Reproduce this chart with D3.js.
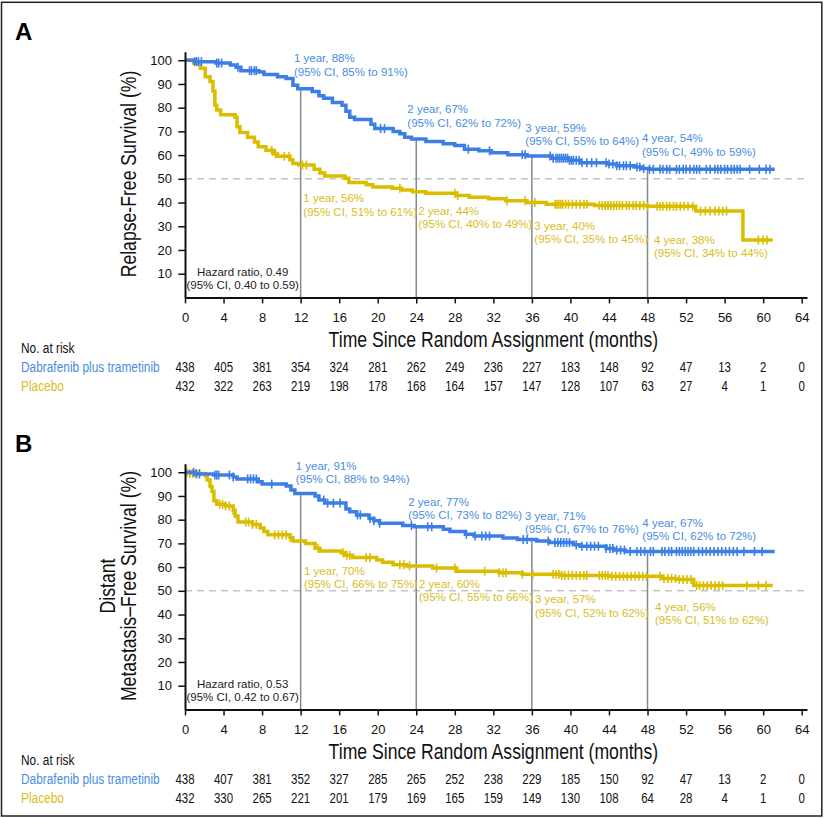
<!DOCTYPE html>
<html>
<head>
<meta charset="utf-8">
<script src="https://cdn.jsdelivr.net/npm/d3@7"></script>
<style>
  body { margin: 0; background: #fff; }
  svg text { font-family: "Liberation Sans", Arial, sans-serif; }
</style>
</head>
<body>
<svg id="chart" width="825" height="818"></svg>
<script>
// axis ticks
var monthTicks = [0, 4, 8, 12, 16, 20, 24, 28, 32, 36, 40, 44, 48, 52, 56, 60, 64];
var pctTicks = [10, 20, 30, 40, 50, 60, 70, 80, 90, 100];
var landmarkMonths = [12, 24, 36, 48];
var armNames = ["Dabrafenib plus trametinib", "Placebo"];

// Panel A: relapse-free survival, [month, %] step points
var rfsDab = [[0,100],[1.0,99.4],[3.2,98.8],[4.7,98.0],[5.3,97.0],[5.8,95.6],[7.7,95.0],[8.2,94.0],[9.6,93.0],[10.5,92.3],[11.2,89.5],[11.7,88.0],[13.2,86.8],[13.9,85.0],[14.4,84.0],[15.3,82.2],[16.3,81.0],[16.7,78.5],[17.1,76.0],[17.6,75.0],[19.3,73.0],[19.7,71.2],[21.6,70.0],[22.3,69.0],[22.8,67.5],[23.5,66.8],[25.0,65.7],[26.8,64.8],[28.0,64.0],[29.0,62.5],[30.5,61.8],[31.8,61.0],[33.5,60.2],[35.5,59.6],[38.0,58.7],[39.8,57.8],[41.0,56.8],[43.8,56.2],[44.8,55.5],[46.6,55.0],[47.4,54.3],[48.2,54.0],[61.2,54.0]];
var rfsPbo = [[0,100],[0.9,98.7],[1.6,96.6],[2.1,93.0],[2.6,91.0],[2.9,87.0],[3.1,81.0],[3.3,79.0],[3.7,77.0],[5.2,76.0],[5.4,72.0],[5.7,69.5],[6.5,67.5],[7.2,65.5],[7.6,63.5],[8.4,62.0],[9.2,60.5],[9.6,59.5],[10.9,58.0],[11.2,56.5],[11.8,55.8],[13.4,54.0],[14.0,52.5],[14.5,51.2],[16.6,50.2],[17.0,48.5],[18.8,47.5],[19.5,46.5],[21.5,46.0],[22.5,45.3],[23.6,44.5],[25.0,43.9],[28.2,43.0],[29.5,42.2],[31.5,41.6],[33.3,40.8],[35.5,40.0],[37.5,39.3],[42.5,38.8],[48.0,38.4],[53.0,36.4],[57.9,24.2],[61.0,24.2]];
var rfsDabCensor = [1.0,1.2,1.4,1.7,3.3,3.5,3.8,5.5,6.7,6.9,7.2,7.4,20.3,20.7,29.4,31.6,35.0,35.3,37.9,38.2,38.5,38.7,38.9,39.1,39.3,39.5,39.7,39.9,40.1,40.3,40.6,40.9,41.2,41.7,42.2,42.7,43.7,44.0,44.4,44.8,45.1,45.5,45.8,46.2,46.9,47.2,47.6,48.2,48.6,49.3,49.6,50.0,50.3,51.0,51.3,51.7,52.0,52.4,52.8,53.1,53.4,54.1,54.5,55.0,55.3,55.6,56.0,56.3,56.7,57.0,57.3,57.6,58.6,59.6,60.3,60.7];
var rfsPboCensor = [9.0,9.4,10.3,10.8,12.2,12.6,22.3,28.0,28.3,33.4,35.3,36.3,38.4,38.6,38.8,39.0,39.2,39.5,39.8,40.2,40.6,41.0,41.4,41.7,43.0,43.3,43.6,43.9,44.2,44.5,44.8,45.1,45.4,45.8,46.1,46.5,46.8,47.2,47.6,48.0,49.0,49.3,49.6,50.0,50.3,50.7,51.0,51.4,51.8,52.2,52.7,53.5,54.0,54.5,55.0,55.4,55.8,56.2,59.5,60.0,60.4];
var rfsDabRisk = [438, 405, 381, 354, 324, 281, 262, 249, 236, 227, 183, 148, 92, 47, 13, 2, 0];
var rfsPboRisk = [432, 322, 263, 219, 198, 178, 168, 164, 157, 147, 128, 107, 63, 27, 4, 1, 0];
var rfsDabNotes = [["1 year, 88%", "(95% CI, 85% to 91%)"], ["2 year, 67%", "(95% CI, 62% to 72%)"], ["3 year, 59%", "(95% CI, 55% to 64%)"], ["4 year, 54%", "(95% CI, 49% to 59%)"]];
var rfsPboNotes = [["1 year, 56%", "(95% CI, 51% to 61%)"], ["2 year, 44%", "(95% CI, 40% to 49%)"], ["3 year, 40%", "(95% CI, 35% to 45%)"], ["4 year, 38%", "(95% CI, 34% to 44%)"]];
var rfsHazard = ["Hazard ratio, 0.49", "(95% CI, 0.40 to 0.59)"];

// Panel B: distant metastasis-free survival
var dmfsDab = [[0,100],[1.0,99.3],[3.0,98.8],[5.0,98.0],[5.4,97.2],[7.6,96.0],[8.0,95.0],[10.5,94.2],[11.0,92.5],[11.4,91.0],[13.5,90.0],[13.9,88.3],[14.5,87.0],[16.7,84.5],[17.1,83.3],[17.8,82.0],[19.1,80.5],[19.6,79.5],[20.2,78.5],[22.6,77.5],[23.8,77.0],[26.8,76.0],[27.5,75.0],[29.1,73.8],[30.0,73.1],[33.0,72.3],[34.5,71.6],[36.5,71.0],[37.8,70.4],[40.3,69.4],[41.0,68.8],[43.7,67.8],[44.5,67.2],[45.7,66.6],[61.2,66.6]];
var dmfsPbo = [[0,100],[0.5,99.5],[2.1,98.5],[2.3,96.7],[2.6,94.0],[2.8,92.0],[3.0,88.0],[3.3,86.5],[4.2,85.8],[5.0,84.0],[5.2,81.5],[5.5,79.0],[7.0,78.0],[7.8,76.5],[8.2,75.0],[8.6,73.6],[10.9,72.5],[11.2,71.0],[12.5,70.0],[13.5,68.0],[14.0,66.8],[16.2,66.0],[16.6,65.0],[17.4,64.0],[19.9,63.0],[20.5,62.0],[21.6,61.0],[23.0,60.5],[25.7,59.6],[28.2,58.3],[32.6,57.6],[35.0,57.0],[39.0,56.5],[44.0,56.1],[49.5,55.2],[51.0,54.8],[52.8,52.2],[61.0,52.2]];
var dmfsDabCensor = [0.9,1.2,1.5,3.1,3.3,3.5,4.6,5.0,6.5,6.8,7.1,7.4,9.0,14.4,14.8,15.4,16.1,17.9,18.2,19.2,19.6,20.2,23.5,25.2,25.6,29.2,30.1,30.8,31.2,31.6,35.1,35.5,37.7,38.4,38.7,39.0,39.3,39.6,39.9,40.6,41.2,41.7,42.1,42.5,42.9,43.7,44.1,44.4,44.8,45.2,45.6,46.2,46.9,47.3,47.7,48.3,48.6,49.5,49.8,50.2,50.5,51.0,51.3,51.6,51.9,52.2,52.5,52.8,53.3,53.7,54.1,54.5,54.9,55.3,55.7,56.1,56.5,56.9,57.3,58.0,59.1,59.9];
var dmfsPboCensor = [0.2,0.5,0.8,1.1,1.5,3.6,3.9,4.2,4.6,5.0,6.3,6.6,7.0,7.4,9.3,9.7,10.1,10.5,10.9,13.8,16.4,16.8,17.1,18.8,19.2,22.3,22.7,23.3,26.1,28.0,31.1,32.6,33.0,33.3,35.0,36.1,38.2,38.5,38.8,39.1,39.4,39.8,40.2,40.6,41.0,41.4,41.7,43.0,43.3,43.6,43.9,44.3,44.7,45.1,45.5,45.9,46.3,46.7,47.1,47.5,47.9,49.3,49.7,50.1,50.5,50.9,51.3,51.7,52.1,52.5,53.1,53.4,53.8,54.2,54.6,55.0,55.4,55.8,58.3,59.5,60.3];
var dmfsDabRisk = [438, 407, 381, 352, 327, 285, 265, 252, 238, 229, 185, 150, 92, 47, 13, 2, 0];
var dmfsPboRisk = [432, 330, 265, 221, 201, 179, 169, 165, 159, 149, 130, 108, 64, 28, 4, 1, 0];
var dmfsDabNotes = [["1 year, 91%", "(95% CI, 88% to 94%)"], ["2 year, 77%", "(95% CI, 73% to 82%)"], ["3 year, 71%", "(95% CI, 67% to 76%)"], ["4 year, 67%", "(95% CI, 62% to 72%)"]];
var dmfsPboNotes = [["1 year, 70%", "(95% CI, 66% to 75%)"], ["2 year, 60%", "(95% CI, 55% to 66%)"], ["3 year, 57%", "(95% CI, 52% to 62%)"], ["4 year, 56%", "(95% CI, 51% to 62%)"]];
var dmfsHazard = ["Hazard ratio, 0.53", "(95% CI, 0.42 to 0.67)"];

var colors = {dab: "#3b7fe6", pbo: "#dbbd00", dabText: "#4a8de0", pboText: "#d8bd1c", ink: "#1a1a1a"};
var squeeze = 0.82; // condensed look, no narrow font installed

var svg = d3.select("#chart");

// frame round the whole figure
svg.append("rect")
    .attr("x", 1.5).attr("y", 2.3)
    .attr("width", 820.3).attr("height", 813.7)
    .attr("fill", "none")
    .attr("stroke", "#222")
    .attr("stroke-width", 1.5);

var x = d3.scaleLinear().domain([0, 64.55]).range([185, 807]);
var y = d3.scaleLinear().domain([0, 103.6]).range([297.4, 51.7]);

// value of a step curve at month t
var survAt = function(steps, t) {
    var v = steps[0][1];
    steps.forEach(function(d) {
        if (d[0] <= t) v = d[1];
    });
    return v;
};

// condensed text placed at px, py
var narrowText = function(parent, px, py, size) {
    return parent.append("text")
        .attr("transform", "translate(" + px + "," + py + ") scale(" + squeeze + ",1)")
        .attr("font-size", size);
};

var drawPanel = function(p) {
    var g = svg.append("g").attr("transform", "translate(0," + p.offset + ")");

    g.append("text")
        .attr("x", 15).attr("y", 39.5)
        .attr("font-size", 24).attr("font-weight", "bold")
        .attr("fill", "#000")
        .text(p.letter);

    // y axis title (one or two lines)
    var yTitle = g.append("text")
        .attr("transform", "translate(" + (136 - (p.yTitle.length - 1) * 21) + ",174) rotate(-90) scale(" + squeeze + ",1)")
        .attr("text-anchor", "middle")
        .attr("font-size", 21.5)
        .attr("fill", "#111");
    p.yTitle.forEach(function(line, i) {
        yTitle.append("tspan").attr("x", 0).attr("dy", i ? 21 : 0).text(line);
    });

    // 50% reference
    g.append("line")
        .attr("x1", x(0)).attr("x2", x(64.55))
        .attr("y1", y(50)).attr("y2", y(50))
        .attr("stroke", "#c4c4c4").attr("stroke-width", 1.5)
        .attr("stroke-dasharray", "7,5");

    // landmark drop lines
    g.selectAll(".landmark")
        .data(landmarkMonths).enter()
        .append("line")
        .attr("class", "landmark")
        .attr("x1", function(d) { return x(d); })
        .attr("x2", function(d) { return x(d); })
        .attr("y1", function(d) { return y(survAt(p.arms[0].steps, d)); })
        .attr("y2", y(0))
        .attr("stroke", "#7f898e").attr("stroke-width", 1.5);

    var line = d3.line()
        .x(function(d) { return x(d[0]); })
        .y(function(d) { return y(d[1]); })
        .curve(d3.curveStepAfter);

    p.arms.slice().reverse().forEach(function(arm) {
        g.append("path")
            .datum(arm.steps)
            .attr("d", line)
            .attr("fill", "none")
            .attr("stroke", arm.color)
            .attr("stroke-width", 3.5);
        g.append("g").selectAll("line")
            .data(arm.censor).enter()
            .append("line")
            .attr("x1", function(d) { return x(d); })
            .attr("x2", function(d) { return x(d); })
            .attr("y1", function(d) { return y(survAt(arm.steps, d)) - 4.5; })
            .attr("y2", function(d) { return y(survAt(arm.steps, d)) + 4.5; })
            .attr("stroke", arm.color)
            .attr("stroke-width", 1.6);
    });

    // landmark notes
    p.arms.forEach(function(arm) {
        arm.notes.forEach(function(note, i) {
            var spot = arm.spots[i];
            var t = g.append("text")
                .attr("x", x(spot[0]))
                .attr("y", y(spot[1]) + 4)
                .attr("font-size", 11.5)
                .attr("fill", arm.textColor);
            note.forEach(function(s, j) {
                t.append("tspan").attr("x", x(spot[0])).attr("dy", j ? 13.3 : 0).text(s);
            });
        });
    });

    // hazard ratio
    p.hazard.forEach(function(s, i) {
        g.append("text")
            .attr("x", 242.7).attr("y", 276 + i * 13.3)
            .attr("text-anchor", "middle")
            .attr("font-size", 11.5)
            .attr("fill", "#222")
            .text(s);
    });

    // axes
    var yAxis = g.append("g")
        .attr("transform", "translate(" + x(0) + ",0)")
        .call(d3.axisLeft(y).tickValues(pctTicks).tickSize(6.7).tickPadding(6.3).tickSizeOuter(0));
    var xAxis = g.append("g")
        .attr("transform", "translate(0," + y(0) + ")")
        .call(d3.axisBottom(x).tickValues(monthTicks).tickSize(6).tickPadding(9).tickSizeOuter(0));
    [yAxis, xAxis].forEach(function(a) {
        a.select(".domain").attr("stroke", "#111").attr("stroke-width", 2);
        a.selectAll(".tick line").attr("stroke", "#111").attr("stroke-width", 1.5);
        a.selectAll(".tick text")
            .attr("font-size", 13)
            .attr("fill", "#111")
            .style("font-family", "'Liberation Sans', Arial, sans-serif");
    });

    narrowText(g, (x(0) + x(64)) / 2, 347, 21.5)
        .attr("text-anchor", "middle")
        .attr("fill", "#111")
        .text("Time Since Random Assignment (months)");

    // number at risk table
    narrowText(g, 21, 352.5, 14.5)
        .attr("fill", "#111")
        .text("No. at risk");
    p.arms.forEach(function(arm, i) {
        var rowY = 371.5 + i * 19;
        narrowText(g, 21, rowY, 14.5)
            .attr("fill", arm.textColor)
            .text(arm.name);
        arm.risk.forEach(function(d, k) {
            narrowText(g, x(monthTicks[k]), rowY, 14)
                .attr("text-anchor", "middle")
                .attr("fill", "#111")
                .text(d);
        });
    });
};

drawPanel({
    letter: "A",
    offset: 0,
    yTitle: ["Relapse-Free Survival (%)"],
    hazard: rfsHazard,
    arms: [
        {name: armNames[0], steps: rfsDab, censor: rfsDabCensor, risk: rfsDabRisk, notes: rfsDabNotes,
         color: colors.dab, textColor: colors.dabText,
         spots: [[11.31, 100.8], [23.07, 79.3], [35.32, 71.6], [47.43, 67.1]]},
        {name: armNames[1], steps: rfsPbo, censor: rfsPboCensor, risk: rfsPboRisk, notes: rfsPboNotes,
         color: colors.pbo, textColor: colors.pboText,
         spots: [[12.28, 41.8], [24.21, 36.6], [36.25, 30.2], [48.67, 24.2]]}
    ]
});

drawPanel({
    letter: "B",
    offset: 412,
    yTitle: ["Distant", "Metastasis\u2013Free Survival (%)"],
    hazard: dmfsHazard,
    arms: [
        {name: armNames[0], steps: dmfsDab, censor: dmfsDabCensor, risk: dmfsDabRisk, notes: dmfsDabNotes,
         color: colors.dab, textColor: colors.dabText,
         spots: [[11.49, 102.8], [23.17, 87.6], [35.28, 81.6], [47.46, 78.7]]},
        {name: armNames[1], steps: dmfsPbo, censor: dmfsPboCensor, risk: dmfsPboRisk, notes: dmfsPboNotes,
         color: colors.pbo, textColor: colors.pboText,
         spots: [[12.35, 58.5], [24.28, 52.8], [36.32, 46.4], [48.78, 43.3]]}
    ]
});
</script>
</body>
</html>
